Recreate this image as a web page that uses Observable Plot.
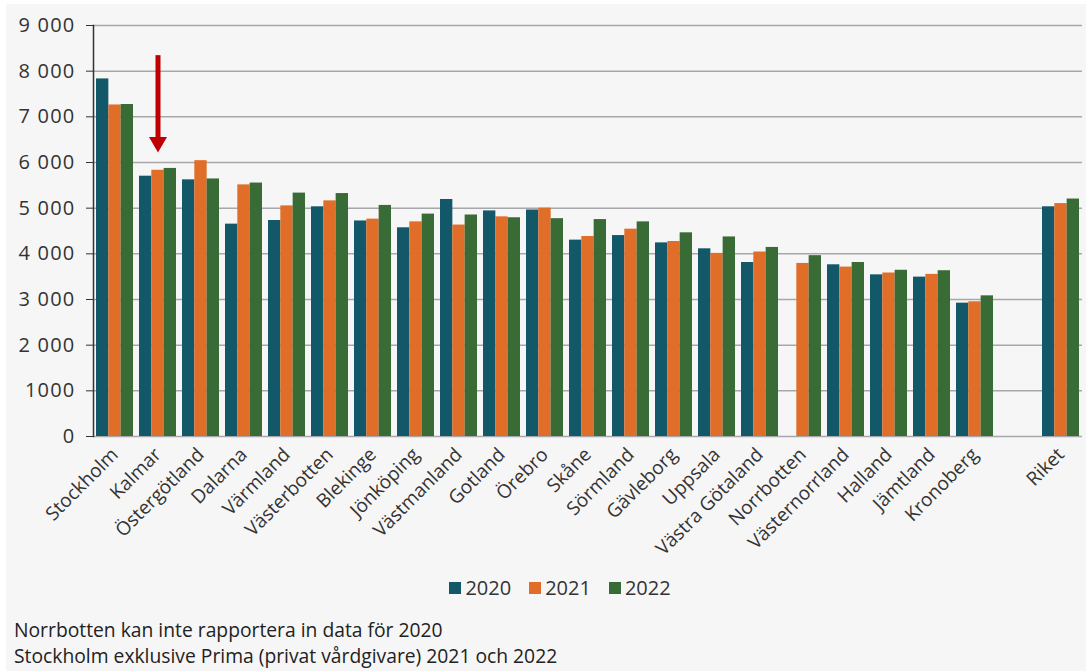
<!DOCTYPE html>
<html><head><meta charset="utf-8">
<script src="https://cdn.jsdelivr.net/npm/d3@7"></script>
<script src="https://cdn.jsdelivr.net/npm/@observablehq/plot@0.6"></script>
<style>
body{margin:0;background:#fff;font-family:"Open Sans",sans-serif;}
#bg{position:absolute;left:6px;top:4px;width:1080px;height:667px;background:#f6f6f6;}
#chart{position:absolute;left:0;top:0;}
#legend{position:absolute;top:574px;left:12px;width:1096px;display:flex;justify-content:center;gap:18px;font-size:20px;color:#333;}
#legend .it{display:flex;align-items:center;gap:4px;}
#legend .sw{width:12px;height:12px;display:inline-block;}
#note{position:absolute;left:14px;top:617px;font-size:19.3px;line-height:26px;color:#222;}
g[aria-label="y-axis tick label"] text{letter-spacing:1.2px;}
</style></head>
<body>
<div id="bg"></div>
<div id="chart"></div>
<div id="legend"></div>
<div id="note">Norrbotten kan inte rapportera in data för 2020<br>Stockholm exklusive Prima (privat vårdgivare) 2021 och 2022</div>
<script>
const regions = ["Stockholm","Kalmar","Östergötland","Dalarna","Värmland","Västerbotten","Blekinge","Jönköping","Västmanland","Gotland","Örebro","Skåne","Sörmland","Gävleborg","Uppsala","Västra Götaland","Norrbotten","Västernorrland","Halland","Jämtland","Kronoberg","Riket"];
const years = ["2020","2021","2022"];
const v2020 = [7830,5700,5620,4650,4730,5030,4720,4570,5190,4940,4960,4300,4400,4240,4110,3810,null,3760,3540,3490,2920,5030];
const v2021 = [7260,5830,6040,5510,5050,5160,4760,4700,4630,4810,5000,4380,4540,4270,4010,4040,3790,3710,3580,3550,2950,5100];
const v2022 = [7270,5870,5640,5550,5330,5320,5060,4870,4850,4790,4770,4750,4700,4460,4370,4140,3960,3810,3640,3630,3080,5200];
const colors = ["#135868","#e06d28","#386b35"];
const yTicks = [0,1000,2000,3000,4000,5000,6000,7000,8000,9000];
const yTickLabels = ["0","1000","2 000","3 000","4 000","5 000","6 000","7 000","8 000","9 000"];
const arrowRegion = "Kalmar", arrowTop = 8340, arrowBottom = 6510, arrowTip = 6445;

const W = 1086, H = 560, mL = 93, mR = 4, mT = 25, mB = 124;
const padIn = 0.14, padOut = 0.07;
const spacer = "\u00a0";
const xDomain = [...regions.slice(0, 21), spacer, "Riket"];
const step = (W - mL - mR) / (xDomain.length - padIn + 2 * padOut);
const third = step * (1 - padIn) / 3;
const series = [v2020, v2021, v2022];
const data = [];
regions.forEach((r, i) => years.forEach((y, j) => {
  if (series[j][i] != null) data.push({region: r, year: y, value: series[j][i]});
}));
const labelMap = new Map(yTicks.map((t, i) => [t, yTickLabels[i]]));
const arrow = [{region: arrowRegion, top: arrowTop, bottom: arrowBottom, tip: arrowTip}];

const plot = Plot.plot({
  width: W, height: H,
  marginLeft: mL, marginRight: mR, marginTop: mT, marginBottom: mB,
  style: {background: "transparent", fontSize: "19px", color: "#333", fontFamily: "Open Sans, sans-serif"},
  x: {domain: xDomain, paddingInner: padIn, paddingOuter: padOut, label: null, axis: null},
  y: {domain: [0, 9000], label: null, axis: null},
  color: {domain: years, range: colors},
  marks: [
    Plot.gridY(yTicks, {stroke: "#a8a8ac", strokeOpacity: 1, strokeWidth: 1.5}),
    ...years.map((yr, j) => Plot.barY(data.filter(d => d.year === yr), {
      x: "region", y: "value", fill: "year",
      insetLeft: j * third, insetRight: (2 - j) * third
    })),
    Plot.axisX({tickRotate: -45, tickSize: 0, tickPadding: 15, label: null,
      tickFormat: d => d === spacer ? "" : d}),
    Plot.axisY({ticks: yTicks, tickFormat: d => labelMap.get(d), tickSize: 7, tickPadding: 11, label: null, fontSize: 20}),
    Plot.frame({anchor: "left", stroke: "#333", strokeWidth: 1.5}),
    Plot.ruleX(arrow, {x: "region", y1: "top", y2: "bottom", stroke: "#c00000", strokeWidth: 5}),
    Plot.dot(arrow, {x: "region", y: "tip", symbol: "triangle", rotate: 180, r: 6.7, fill: "#c00000", stroke: "none"})
  ]
});
document.getElementById("chart").appendChild(plot);

const lg = document.getElementById("legend");
years.forEach((y, i) => {
  const it = document.createElement("span");
  it.className = "it";
  it.innerHTML = `<span class="sw" style="background:${colors[i]}"></span><span>${y}</span>`;
  lg.appendChild(it);
});
</script>
</body></html>
